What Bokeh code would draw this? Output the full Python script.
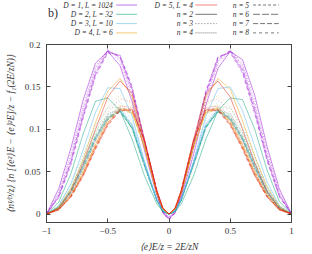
from bokeh.plotting import figure
from bokeh.layouts import column
from bokeh.models import Range1d, LinearAxis, FixedTicker
from bokeh.embed import file_html
from bokeh.resources import INLINE
from bokeh.core.properties import value

# ---------------- data ----------------
x_grid = [-1.0, -0.9, -0.8, -0.7, -0.6, -0.5, -0.4, -0.3, -0.2, -0.1, -0.05,
          0.0, 0.05, 0.1, 0.2, 0.3, 0.4, 0.5, 0.6, 0.7, 0.8, 0.9, 1.0]

D_labels = ["D = 1, L = 1024", "D = 2, L = 32", "D = 3, L = 10", "D = 4, L = 6", "D = 5, L = 4"]
n_values = [2, 3, 4, 5, 6, 7, 8]
n_labels = ["n = 2", "n = 3", "n = 4", "n = 5", "n = 6", "n = 7", "n = 8"]

x_ticks = [-1, -0.5, 0, 0.5, 1]
x_tick_labels = ["\u22121", "\u22120.5", "0", "0.5", "1"]
y_ticks = [0, 0.05, 0.1, 0.15, 0.2]
y_tick_labels = ["0", "0.05", "0.1", "0.15", "0.2"]

# curves for n = 2 ... 8
curves_D1 = [
    [0, 0.030, 0.078, 0.135, 0.178, 0.192, 0.175, 0.132, 0.075, 0.022, 0.003, -0.004, 0.003, 0.020, 0.070, 0.128, 0.172, 0.192, 0.182, 0.140, 0.080, 0.030, 0],
    [0, 0.026, 0.072, 0.128, 0.174, 0.193, 0.180, 0.138, 0.080, 0.024, 0.002, -0.005, 0.002, 0.022, 0.075, 0.133, 0.177, 0.193, 0.178, 0.133, 0.075, 0.027, 0],
    [0, 0.024, 0.068, 0.124, 0.172, 0.194, 0.183, 0.142, 0.082, 0.025, 0.002, -0.005, 0.002, 0.023, 0.078, 0.137, 0.180, 0.194, 0.175, 0.128, 0.072, 0.025, 0],
    [0, 0.022, 0.064, 0.120, 0.168, 0.193, 0.185, 0.145, 0.085, 0.026, 0.002, -0.006, 0.002, 0.024, 0.080, 0.140, 0.182, 0.193, 0.172, 0.125, 0.068, 0.023, 0],
    [0, 0.021, 0.062, 0.117, 0.166, 0.192, 0.186, 0.147, 0.086, 0.027, 0.002, -0.006, 0.002, 0.025, 0.082, 0.142, 0.184, 0.192, 0.170, 0.122, 0.066, 0.022, 0],
    [0, 0.020, 0.060, 0.115, 0.164, 0.191, 0.187, 0.149, 0.087, 0.027, 0.001, -0.006, 0.001, 0.025, 0.083, 0.144, 0.185, 0.191, 0.168, 0.120, 0.064, 0.021, 0],
    [0, 0.019, 0.058, 0.113, 0.162, 0.190, 0.188, 0.150, 0.088, 0.028, 0.001, -0.007, 0.001, 0.026, 0.084, 0.145, 0.186, 0.190, 0.166, 0.118, 0.063, 0.020, 0],
]
curves_D2 = [
    [0, 0.014, 0.048, 0.095, 0.133, 0.137, 0.122, 0.088, 0.045, 0.012, 0.003, 0, 0.003, 0.012, 0.045, 0.088, 0.122, 0.137, 0.135, 0.100, 0.052, 0.015, 0],
    [0, 0.010, 0.035, 0.070, 0.105, 0.125, 0.126, 0.100, 0.055, 0.015, 0.003, 0, 0.003, 0.015, 0.056, 0.100, 0.126, 0.125, 0.104, 0.068, 0.034, 0.010, 0],
    [0, 0.009, 0.031, 0.063, 0.097, 0.118, 0.123, 0.100, 0.056, 0.016, 0.003, 0, 0.003, 0.016, 0.057, 0.101, 0.123, 0.118, 0.096, 0.062, 0.030, 0.009, 0],
    [0, 0.008, 0.029, 0.060, 0.093, 0.115, 0.122, 0.101, 0.057, 0.016, 0.003, 0, 0.003, 0.016, 0.058, 0.102, 0.122, 0.115, 0.092, 0.059, 0.028, 0.008, 0],
    [0, 0.008, 0.028, 0.058, 0.091, 0.114, 0.121, 0.101, 0.058, 0.017, 0.003, 0, 0.003, 0.017, 0.059, 0.102, 0.121, 0.113, 0.090, 0.057, 0.027, 0.008, 0],
    [0, 0.007, 0.027, 0.057, 0.090, 0.113, 0.121, 0.102, 0.058, 0.017, 0.003, 0, 0.003, 0.017, 0.059, 0.103, 0.121, 0.112, 0.089, 0.056, 0.026, 0.007, 0],
    [0, 0.007, 0.026, 0.056, 0.089, 0.112, 0.120, 0.102, 0.059, 0.017, 0.003, 0, 0.003, 0.017, 0.060, 0.103, 0.120, 0.111, 0.088, 0.055, 0.026, 0.007, 0],
]
curves_D3 = [
    [0, 0.010, 0.036, 0.076, 0.120, 0.149, 0.148, 0.115, 0.062, 0.016, 0.004, 0, 0.004, 0.016, 0.062, 0.115, 0.148, 0.150, 0.122, 0.080, 0.038, 0.010, 0],
    [0, 0.008, 0.030, 0.064, 0.100, 0.126, 0.133, 0.110, 0.062, 0.017, 0.004, 0, 0.004, 0.017, 0.063, 0.111, 0.133, 0.126, 0.100, 0.064, 0.030, 0.008, 0],
    [0, 0.007, 0.027, 0.058, 0.092, 0.117, 0.126, 0.106, 0.060, 0.017, 0.004, 0, 0.004, 0.017, 0.061, 0.107, 0.126, 0.117, 0.092, 0.058, 0.027, 0.007, 0],
    [0, 0.007, 0.026, 0.056, 0.089, 0.114, 0.124, 0.105, 0.060, 0.017, 0.004, 0, 0.004, 0.017, 0.061, 0.106, 0.124, 0.114, 0.089, 0.056, 0.026, 0.007, 0],
    [0, 0.007, 0.025, 0.055, 0.088, 0.113, 0.123, 0.105, 0.060, 0.017, 0.004, 0, 0.004, 0.017, 0.060, 0.105, 0.123, 0.113, 0.088, 0.055, 0.025, 0.007, 0],
    [0, 0.006, 0.025, 0.054, 0.087, 0.112, 0.122, 0.104, 0.059, 0.017, 0.004, 0, 0.004, 0.017, 0.059, 0.104, 0.122, 0.112, 0.087, 0.054, 0.025, 0.006, 0],
    [0, 0.006, 0.024, 0.053, 0.086, 0.111, 0.122, 0.104, 0.059, 0.017, 0.004, 0, 0.004, 0.017, 0.059, 0.104, 0.122, 0.111, 0.086, 0.053, 0.024, 0.006, 0],
]
curves_D4 = [
    [0, 0.008, 0.030, 0.065, 0.108, 0.145, 0.160, 0.138, 0.082, 0.024, 0.006, 0, 0.006, 0.024, 0.082, 0.138, 0.160, 0.147, 0.110, 0.068, 0.032, 0.009, 0],
    [0, 0.007, 0.026, 0.057, 0.095, 0.127, 0.140, 0.128, 0.080, 0.025, 0.006, 0, 0.006, 0.025, 0.080, 0.128, 0.140, 0.127, 0.095, 0.057, 0.026, 0.007, 0],
    [0, 0.006, 0.024, 0.052, 0.086, 0.115, 0.129, 0.122, 0.079, 0.025, 0.006, 0, 0.006, 0.025, 0.079, 0.122, 0.129, 0.115, 0.086, 0.052, 0.024, 0.006, 0],
    [0, 0.006, 0.023, 0.050, 0.083, 0.111, 0.126, 0.120, 0.079, 0.025, 0.006, 0, 0.006, 0.025, 0.079, 0.120, 0.126, 0.111, 0.083, 0.050, 0.023, 0.006, 0],
    [0, 0.006, 0.022, 0.049, 0.081, 0.109, 0.125, 0.120, 0.079, 0.025, 0.006, 0, 0.006, 0.025, 0.079, 0.120, 0.125, 0.109, 0.081, 0.049, 0.022, 0.006, 0],
    [0, 0.005, 0.022, 0.048, 0.080, 0.108, 0.124, 0.119, 0.079, 0.025, 0.006, 0, 0.006, 0.025, 0.079, 0.119, 0.124, 0.108, 0.080, 0.048, 0.022, 0.005, 0],
    [0, 0.005, 0.021, 0.047, 0.079, 0.107, 0.123, 0.119, 0.079, 0.025, 0.006, 0, 0.006, 0.025, 0.079, 0.119, 0.123, 0.107, 0.079, 0.047, 0.021, 0.005, 0],
]
curves_D5 = [
    [0, 0.007, 0.027, 0.060, 0.100, 0.138, 0.157, 0.142, 0.088, 0.027, 0.007, 0, 0.007, 0.027, 0.088, 0.142, 0.157, 0.138, 0.100, 0.060, 0.027, 0.007, 0],
    [0, 0.006, 0.024, 0.053, 0.088, 0.120, 0.136, 0.132, 0.087, 0.028, 0.007, 0, 0.007, 0.028, 0.087, 0.132, 0.136, 0.120, 0.088, 0.053, 0.024, 0.006, 0],
    [0, 0.006, 0.022, 0.049, 0.082, 0.111, 0.127, 0.126, 0.086, 0.028, 0.007, 0, 0.007, 0.028, 0.086, 0.126, 0.127, 0.111, 0.082, 0.049, 0.022, 0.006, 0],
    [0, 0.005, 0.021, 0.047, 0.079, 0.107, 0.124, 0.124, 0.086, 0.028, 0.007, 0, 0.007, 0.028, 0.086, 0.124, 0.124, 0.107, 0.079, 0.047, 0.021, 0.005, 0],
    [0, 0.005, 0.021, 0.046, 0.078, 0.106, 0.123, 0.123, 0.086, 0.028, 0.007, 0, 0.007, 0.028, 0.086, 0.123, 0.123, 0.106, 0.078, 0.046, 0.021, 0.005, 0],
    [0, 0.005, 0.020, 0.045, 0.077, 0.105, 0.122, 0.123, 0.086, 0.028, 0.007, 0, 0.007, 0.028, 0.086, 0.123, 0.122, 0.105, 0.077, 0.045, 0.020, 0.005, 0],
    [0, 0.005, 0.020, 0.045, 0.076, 0.104, 0.122, 0.122, 0.086, 0.028, 0.007, 0, 0.007, 0.028, 0.086, 0.122, 0.122, 0.104, 0.076, 0.045, 0.020, 0.005, 0],
]

# ---------------- style ----------------
series_colors = ["#9400d3", "#009e73", "#56b4e9", "#e69f00", "#e51e10"]
n_dashes = ["solid", "1 2", "1 1", "3 2", "7 2", "5 2", "3 3"]
n_alpha = [0.6, 0.45, 0.45, 0.45, 0.45, 0.45, 0.45]
FONT = "Liberation Serif"
AX = "#444444"

W = 306
LEG_H = 38
MAIN_H = 216
FRAME_TOP = 44      # page pixel of plot frame top
FRAME_BOTTOM = 225  # page pixel of plot frame bottom

# ---------------- main plot ----------------
p = figure(width=W, height=MAIN_H, x_range=Range1d(-1, 1), y_range=Range1d(-0.01, 0.2),
           output_backend="svg", toolbar_location=None,
           min_border_left=46, min_border_right=W - 291,
           min_border_top=FRAME_TOP - LEG_H,
           min_border_bottom=MAIN_H - (FRAME_BOTTOM - LEG_H))
p.xgrid.visible = False
p.ygrid.visible = False
p.outline_line_color = AX
p.background_fill_color = "white"

all_curves = [curves_D1, curves_D2, curves_D3, curves_D4, curves_D5]
for ci, curves in enumerate(all_curves):
    for ni, ys in enumerate(curves):
        p.line(x_grid, ys, line_color=series_colors[ci], line_width=0.8,
               line_alpha=n_alpha[ni], line_dash=n_dashes[ni])

def style_axis(ax, ticks, labels, show):
    ax.ticker = FixedTicker(ticks=ticks)
    ax.major_label_overrides = {t: (l if show else "") for t, l in zip(ticks, labels)}
    ax.major_tick_in = 4
    ax.major_tick_out = 0
    ax.minor_tick_line_color = None
    ax.major_tick_line_color = AX
    ax.axis_line_color = AX
    ax.major_label_text_font = FONT
    ax.major_label_text_font_size = "9px" if show else "1px"
    ax.major_label_text_color = "#333333"

style_axis(p.xaxis[0], x_ticks, x_tick_labels, True)
style_axis(p.yaxis[0], y_ticks, y_tick_labels, True)
p.xaxis[0].major_label_standoff = 5
p.yaxis[0].major_label_standoff = 6

p.xaxis[0].axis_label = "\u27e8e\u27e9E/z = 2E/zN"
p.yaxis[0].axis_label = "\u27e8n\u00b9\u2044\u1d30/z\u27e9 {n [\u27e8e\u00b2\u27e9E \u2212 \u27e8e\u27e9\u00b2E]/z \u2212 f\u2081(2E/zN)}"
for ax in (p.xaxis[0], p.yaxis[0]):
    ax.axis_label_text_font = FONT
    ax.axis_label_text_font_style = "italic"
    ax.axis_label_text_font_size = "9.5px"
    ax.axis_label_text_color = "#333333"
p.xaxis[0].axis_label_standoff = 5
p.yaxis[0].axis_label_standoff = 6

ax_top = LinearAxis()
style_axis(ax_top, x_ticks, x_tick_labels, False)
ax_top.major_label_standoff = 0
p.add_layout(ax_top, "above")
ax_right = LinearAxis()
style_axis(ax_right, y_ticks, y_tick_labels, False)
ax_right.major_label_standoff = 0
p.add_layout(ax_right, "right")

# ---------------- legend strip ----------------
lg = figure(width=W, height=LEG_H, x_range=Range1d(0, W), y_range=Range1d(LEG_H, 0),
            output_backend="svg", toolbar_location=None, x_axis_type=None, y_axis_type=None,
            min_border=0)
lg.xgrid.visible = False
lg.ygrid.visible = False
lg.outline_line_color = None

rows = [4.5, 13.8, 23.1, 32.4]
cols = [(83, 87, 113), (183, 186, 213), (253, 258, 290)]
entries = []
for i, lab in enumerate(D_labels):
    entries.append((lab, series_colors[i], "solid", 0.55))
for i, lab in enumerate(n_labels):
    entries.append((lab, "#777777", n_dashes[i], 1.0))

for k, (lab, col, dash, alpha) in enumerate(entries):
    c = k // 4
    r = k % 4
    tx, s0, s1 = cols[c]
    y = rows[r]
    lg.text(x=[tx], y=[y], text=[lab], text_align="right", text_baseline="middle",
            text_font=value(FONT), text_font_style="italic", text_font_size="7.5px",
            text_color="#333333")
    lg.segment(x0=[s0], y0=[y], x1=[s1], y1=[y], line_color=col, line_alpha=alpha,
               line_width=1, line_dash=dash)

lg.text(x=[2], y=[12], text=["b)"], text_align="left", text_baseline="middle",
        text_font=value(FONT), text_font_size="12px", text_color="#333333")

layout = column(lg, p, spacing=0)
open("out.html", "w").write(file_html(layout, INLINE))
